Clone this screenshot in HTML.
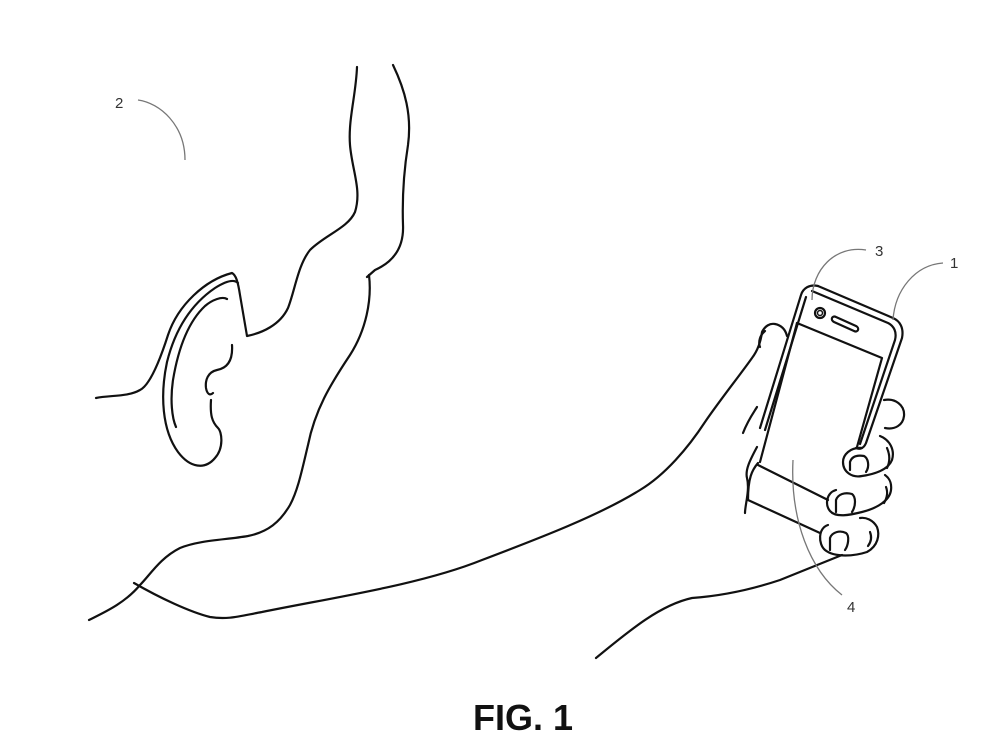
<!DOCTYPE html>
<html><head><meta charset="utf-8"><style>
html,body{margin:0;padding:0;background:#fff;width:1000px;height:750px;overflow:hidden}
svg{display:block}
</style></head><body>
<svg width="1000" height="750" viewBox="0 0 1000 750" xmlns="http://www.w3.org/2000/svg">
<g fill="none" stroke="#111" stroke-width="2.2" stroke-linecap="round" stroke-linejoin="round">
<!-- face/jaw line -->
<path d="M357,67 C356,95 348,120 350,145 C352,170 362,190 355,212 C348,228 325,235 310,250 C298,265 295,290 288,308 C280,325 262,333 247,336 L240,295 C238,282 236,275 232,273 C205,280 178,305 168,335 C160,360 150,385 140,390 C128,397 110,395 96,398"/>
<!-- second helix line -->
<path d="M238,283 C234,279 226,281 215,288 C190,305 175,330 167,362 C160,395 162,430 178,452 C190,468 205,470 215,458 C224,448 222,432 218,428 C212,422 210,415 211,400"/>
<!-- inner helix -->
<path d="M227,299 C222,296 212,300 205,306 C188,322 178,350 173,380 C170,400 172,418 176,427"/>
<!-- concha -->
<path d="M232,345 C233,360 228,368 217,370 C208,372 205,380 206,388 C207,394 210,396 213,393"/>
<!-- neck right -->
<path d="M393,65 C405,90 412,115 408,145 C404,170 402,195 403,225 C404,248 393,262 375,270 L367,277"/>
<!-- neck-shoulder continuous -->
<path d="M369,275 C372,300 366,330 350,355 C330,385 315,410 308,445 C302,470 298,490 290,505 C280,522 268,532 248,536 C225,540 200,540 180,548 C160,558 150,575 140,585 C125,603 105,612 89,620"/>
<!-- underarm + arm + thumb -->
<path d="M134,583 C160,598 190,612 210,617 C228,620 240,616 262,612 C330,598 420,585 482,560 C540,538 600,515 640,490 C665,475 688,448 705,422 C720,400 740,375 752,358 C758,350 761,340 762,332 C765,326 770,323 775,324 C780,325 785,328 787,336"/>
<path d="M760,347 C758,342 760,335 765,331"/>
<!-- palm edges -->
<path d="M743,433 C748,420 754,412 757,407"/>
<path d="M757,447 C750,460 745,470 747,478 C750,490 745,505 745,513"/>
<!-- bottom forearm line -->
<path d="M596,658 C630,630 660,605 692,598 C720,596 750,590 780,580 C805,570 830,560 842,555"/>
<!-- phone outer -->
<path d="M818,286 L893,318 C900,321 904,328 902,338 L866,443 C864,448 860,450 856,448"/>
<path d="M818,286 C810,284 803,288 801,295 L760,428"/>
<path d="M812,291 L888,323 C894,326 897,332 895,340 L860,444"/>
<path d="M806,297 L765,430"/>
<!-- screen -->
<path d="M797,323 L882,358 L857,447"/>
<path d="M797,323 L760,462"/>
<!-- phone bottom faces -->
<path d="M758,465 L828,500"/>
<path d="M748,500 L820,533"/>
<path d="M758,463 C752,470 748,478 748,500"/>
<!-- camera & speaker -->
<circle cx="820" cy="313" r="5"/>
<circle cx="820" cy="313" r="2.5" stroke-width="1.5"/>
<path d="M836,317 L856,326 C860,328 858,333 854,331 L834,322 C830,320 832,315 836,317Z"/>
<!-- index finger behind -->
<path d="M884,400 C895,398 905,405 904,416 C903,425 895,430 885,428"/>
<!-- finger 1 -->
<path d="M862,448 C850,447 843,455 843,462 C843,472 852,478 862,476 C875,474 888,470 892,460 C895,450 890,440 880,436"/>
<path d="M850,470 L850,462 C852,456 858,455 864,456 C868,458 870,466 866,472"/>
<path d="M887,448 C890,455 890,462 887,468"/>
<!-- finger 2 -->
<path d="M836,490 C826,493 825,505 830,511 C836,518 850,515 862,512 C878,508 890,500 891,490 C892,482 889,478 885,475"/>
<path d="M836,512 L836,500 C838,494 845,492 852,494 C856,497 856,506 852,512"/>
<path d="M886,487 C888,492 887,498 884,503"/>
<!-- finger 3 -->
<path d="M828,525 C818,528 818,544 825,550 C835,558 855,556 867,552 C878,546 880,535 877,527 C873,520 866,517 860,518"/>
<path d="M830,550 L830,538 C832,532 840,530 846,533 C850,536 848,546 845,550"/>
<path d="M870,532 C872,537 871,542 868,546"/>
</g>
<!-- leader lines -->
<g fill="none" stroke="#777" stroke-width="1.3">
<path d="M138,100 C160,103 185,125 185,160"/>
<path d="M866,250 C835,245 812,270 812,300"/>
<path d="M943,263 C915,265 895,290 893,320"/>
<path d="M793,460 C790,520 810,570 842,595"/>
</g>
<g font-family="Liberation Sans, sans-serif" font-size="15" fill="#333">
<text x="115" y="108">2</text>
<text x="875" y="256">3</text>
<text x="950" y="268">1</text>
<text x="847" y="612">4</text>
</g>
<text x="523" y="730" text-anchor="middle" font-family="Liberation Sans, sans-serif" font-weight="bold" font-size="36" fill="#111">FIG. 1</text>
</svg>
</body></html>
